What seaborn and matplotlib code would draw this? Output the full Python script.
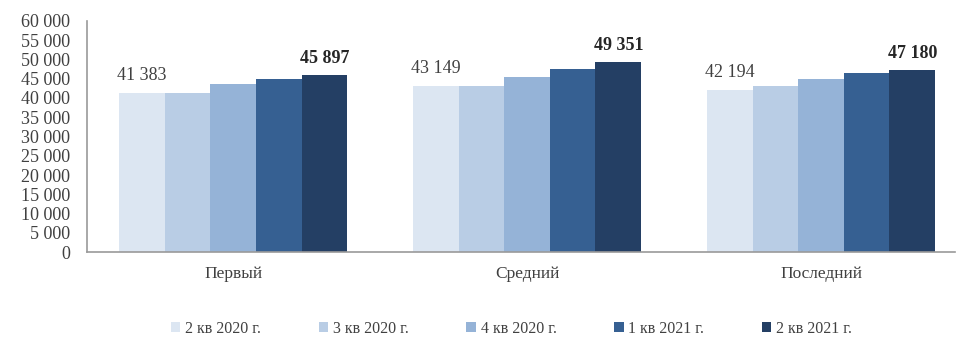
import matplotlib
matplotlib.use("Agg")
import matplotlib.pyplot as plt
import seaborn as sns
import pandas as pd
from matplotlib.ticker import FuncFormatter, MultipleLocator

# Average wage by group and quarter
categories = ["Первый", "Средний", "Последний"]
periods = ["2 кв 2020 г.", "3 кв 2020 г.", "4 кв 2020 г.", "1 кв 2021 г.", "2 кв 2021 г."]
q2_2020 = [41383, 43149, 42194]
q3_2020 = [41300, 43100, 43100]
q4_2020 = [43700, 45500, 44800]
q1_2021 = [44800, 47400, 46400]
q2_2021 = [45897, 49351, 47180]

colors = ["#dce6f2", "#b9cde5", "#95b3d7", "#366092", "#243f64"]

series = [q2_2020, q3_2020, q4_2020, q1_2021, q2_2021]
rows = []
for period, vals in zip(periods, series):
    for cat, v in zip(categories, vals):
        rows.append({"cat": cat, "period": period, "val": v})
df = pd.DataFrame(rows)

sns.set_style("white")
plt.rcParams["font.family"] = ["Liberation Serif", "DejaVu Serif"]

fig = plt.figure(figsize=(9.56, 3.37), dpi=100)
ax = fig.add_axes([0.091, 0.252, 0.908, 0.686])

sns.barplot(data=df, x="cat", y="val", hue="period", order=categories,
            hue_order=periods, palette=colors, saturation=1, width=0.776,
            linewidth=0, ax=ax, legend=True)

ax.set_ylim(0, 60000)
ax.set_xlim(-0.497, 2.456)
ax.yaxis.set_major_locator(MultipleLocator(5000))


def spaced(v, pos=None):
    return f"{int(round(v)):,}".replace(",", " ")


ax.yaxis.set_major_formatter(FuncFormatter(spaced))
ax.set_xlabel("")
ax.set_ylabel("")
ax.tick_params(axis="y", labelsize=13, length=0, pad=12, colors="#404040")
ax.tick_params(axis="x", labelsize=12.5, length=0, pad=10, colors="#404040")

for side in ["top", "right"]:
    ax.spines[side].set_visible(False)
for side in ["left", "bottom"]:
    ax.spines[side].set_color("#9a9a9a")
    ax.spines[side].set_linewidth(1.2)

ax.bar_label(ax.containers[0], labels=[spaced(v) for v in series[0]],
             padding=6, fontsize=13, color="#404040")
ax.bar_label(ax.containers[4], labels=[spaced(v) for v in series[4]],
             padding=6, fontsize=13, fontweight="bold", color="#262626")

handles, labels = ax.get_legend_handles_labels()
ax.legend_.remove()
fig.legend(handles, labels, loc="center", bbox_to_anchor=(0.535, 0.025),
           ncol=5, frameon=False, fontsize=11.5, handlelength=0.6,
           handleheight=0.6, handletextpad=0.3, columnspacing=3.6,
           labelcolor="#404040")

fig.savefig("out.png", dpi=100)
